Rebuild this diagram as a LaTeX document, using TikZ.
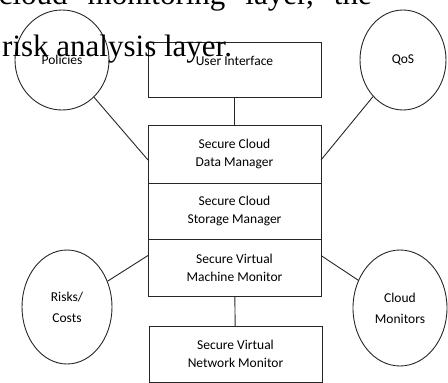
\documentclass[tikz,border=0pt]{standalone}
\usepackage{fontspec}
\setmainfont{Carlito}
\newfontfamily\bodyserif{Liberation Serif}
\usetikzlibrary{shapes.geometric}
\usetikzlibrary{positioning}

\begin{document}
\begin{tikzpicture}[x=1pt,y=-1pt,
  layer/.style={draw=black!85,line width=0.9pt,rectangle,minimum width=173pt,outer sep=0pt,inner sep=0pt,align=center,font=\fontsize{13.5}{18}\selectfont},
  aspect/.style={draw=black!85,line width=0.9pt,ellipse,inner sep=0pt,align=center,font=\fontsize{13.5}{21}\selectfont},
  link/.style={draw=black!85,line width=0.9pt},
  prose/.style={inner sep=0pt,font=\bodyserif\fontsize{31}{31}\selectfont}]

\clip (0,0) rectangle (448,383);

% the layers
\node[layer,minimum height=55pt] (ui) at (234.5,69.5) {User Interface\\~};
\node[layer,minimum height=58pt] (data) at (234.5,154) {Secure Cloud\\Data Manager};
\node[layer,minimum height=56pt,below=0pt of data] (store) {Secure Cloud\\Storage Manager};
\node[layer,minimum height=57pt,below=0pt of store] (vmm) {Secure Virtual\\Machine Monitor};
\node[layer,minimum height=56pt] (vnm) at (235.5,354) {Secure Virtual\\Network Monitor};

% the side aspects
\node[aspect,minimum width=94pt,minimum height=100pt] (pol) at (62,60) {Policies};
\node[aspect,minimum width=86pt,minimum height=100pt] (qos) at (403,60) {QoS};
\node[aspect,minimum width=90pt,minimum height=114pt] (risk) at (67,307) {Risks/\\Costs};
\node[aspect,minimum width=94pt,minimum height=116pt] (mon) at (400,308) {Cloud\\Monitors};

\draw[link] (ui) -- (data);
\draw[link] (vmm) -- (vnm);
\draw[link] (pol) -- ([yshift=-6pt]data.west);
\draw[link] (qos) -- ([yshift=-6pt]data.east);
\draw[link] (risk) -- ([yshift=12pt]vmm.west);
\draw[link] (mon) -- ([yshift=12pt]vmm.east);

% running text of the page
\node[prose,anchor=base east] (line1) at (372,4) {\spaceskip=20pt cloud monitoring layer, the};
\node[prose,anchor=base west] (line2) at (2,56.5) {risk analysis layer.};
\end{tikzpicture}
\end{document}
